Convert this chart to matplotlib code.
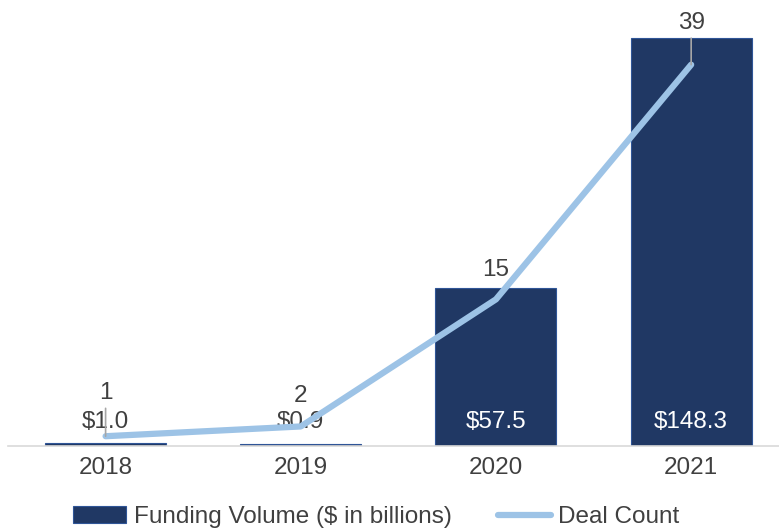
import matplotlib.pyplot as plt

# data
years = ['2018', '2019', '2020', '2021']
funding = [1.0, 0.9, 57.5, 148.3]
deals = [1, 2, 15, 39]

# style
bar_color = '#203864'
line_color = '#9DC3E6'
text_color = '#404040'
plt.rcParams['font.family'] = ['Liberation Sans', 'DejaVu Sans']
fs = 17.5

fig = plt.figure(figsize=(7.79, 5.31), dpi=100)
ax = fig.add_axes([8/779, 85/531, 771/779, 440/531])
ax2 = ax.twinx()

x = list(range(len(years)))
bars = ax.bar(x, funding, width=0.62, color=bar_color, edgecolor='#2F5597',
              linewidth=0.8, label='Funding Volume ($ in billions)', zorder=2)
ax.set_xlim(-0.5, 3.45)
ax.set_ylim(0, 160)
ax2.set_ylim(0, 45)

ln, = ax2.plot(x, deals, color=line_color, lw=4.5, solid_capstyle='round',
               label='Deal Count', zorder=3)

# bar labels, near the bottom of the bar
for xi, v in zip(x, funding):
    big = v > 20
    ax.annotate('$%.1f' % v, (xi, 0), xytext=(0, 17), textcoords='offset points',
                ha='center', va='center', fontsize=fs,
                color='white' if big else text_color, zorder=4)

# deal count labels with leader lines
label_off = [31, 22, 21, 30]
leader = [True, False, False, True]
for xi, v, off, ld in zip(x, deals, label_off, leader):
    ap = dict(arrowstyle='-', color='#A6A6A6', lw=1.2, shrinkA=1, shrinkB=0) if ld else None
    ax2.annotate(str(v), (xi, v), xytext=(0, off), textcoords='offset points',
                 ha='center', va='center', fontsize=fs, color=text_color,
                 arrowprops=ap, zorder=5)

for a in (ax, ax2):
    for s in ['top', 'right', 'left']:
        a.spines[s].set_visible(False)
    a.set_yticks([])
ax2.spines['bottom'].set_visible(False)
ax.spines['bottom'].set_color('#D9D9D9')
ax.spines['bottom'].set_linewidth(1.2)
ax.set_xticks(x)
ax.set_xticklabels(years, fontsize=fs, color=text_color)
ax.tick_params(axis='x', length=0, pad=8)

fig.legend([bars, ln], ['Funding Volume ($ in billions)', 'Deal Count'],
           loc='center', bbox_to_anchor=(0.483, 0.026), ncol=2,
           frameon=False, fontsize=fs, labelcolor=text_color,
           handlelength=2.2, handletextpad=0.3, columnspacing=1.9)

fig.savefig('out.png', dpi=100)
